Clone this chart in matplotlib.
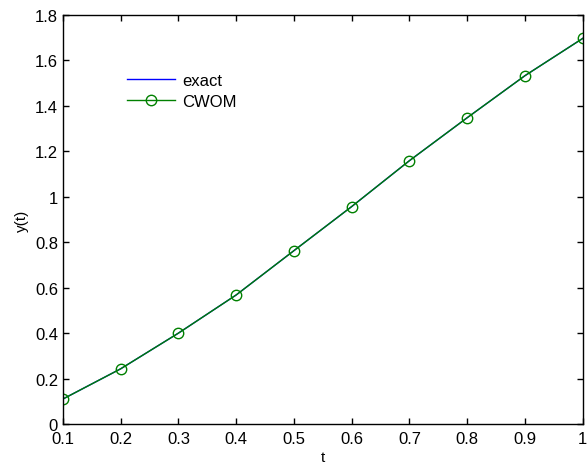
import matplotlib
matplotlib.use("Agg")
import matplotlib.pyplot as plt

plt.rcParams['font.family'] = ['Liberation Sans', 'DejaVu Sans']

t = [0.1, 0.2, 0.3, 0.4, 0.5, 0.6, 0.7, 0.8, 0.9, 1.0]
y_exact = [0.110, 0.243, 0.400, 0.568, 0.763, 0.957, 1.159, 1.348, 1.533, 1.697]
y_cwom = [0.110, 0.243, 0.400, 0.568, 0.763, 0.957, 1.159, 1.348, 1.533, 1.697]

fig = plt.figure(figsize=(5.88, 4.64), dpi=100)
ax = fig.add_axes([0.107, 0.084, 0.884, 0.8815])

ax.plot(t, y_exact, color='blue', lw=1, label='exact')
ax.plot(t, y_cwom, color='#008000', lw=1, marker='o', markersize=7.5,
        markerfacecolor='none', markeredgecolor='#008000', label='CWOM')

ax.set_xlim(0.1, 1.0)
ax.set_ylim(0, 1.8)
ax.set_xticks([0.1, 0.2, 0.3, 0.4, 0.5, 0.6, 0.7, 0.8, 0.9, 1.0])
ax.set_xticklabels(['0.1', '0.2', '0.3', '0.4', '0.5', '0.6', '0.7', '0.8', '0.9', '1'])
ax.set_yticks([0, 0.2, 0.4, 0.6, 0.8, 1.0, 1.2, 1.4, 1.6, 1.8])
ax.set_yticklabels(['0', '0.2', '0.4', '0.6', '0.8', '1', '1.2', '1.4', '1.6', '1.8'])
ax.tick_params(direction='in', top=True, right=True, labelsize=12, length=4, width=1)
ax.tick_params(axis='x', pad=5)
for s in ax.spines.values():
    s.set_linewidth(1)

ax.set_xlabel('t', fontsize=11, labelpad=3)
ax.set_ylabel('y(t)', fontsize=11, labelpad=4)

ax.legend(loc='upper left', bbox_to_anchor=(0.11, 0.875), frameon=False,
          fontsize=12, handlelength=2.9, handletextpad=0.4,
          borderaxespad=0, labelspacing=0.35)

fig.savefig('out.png', dpi=100)
